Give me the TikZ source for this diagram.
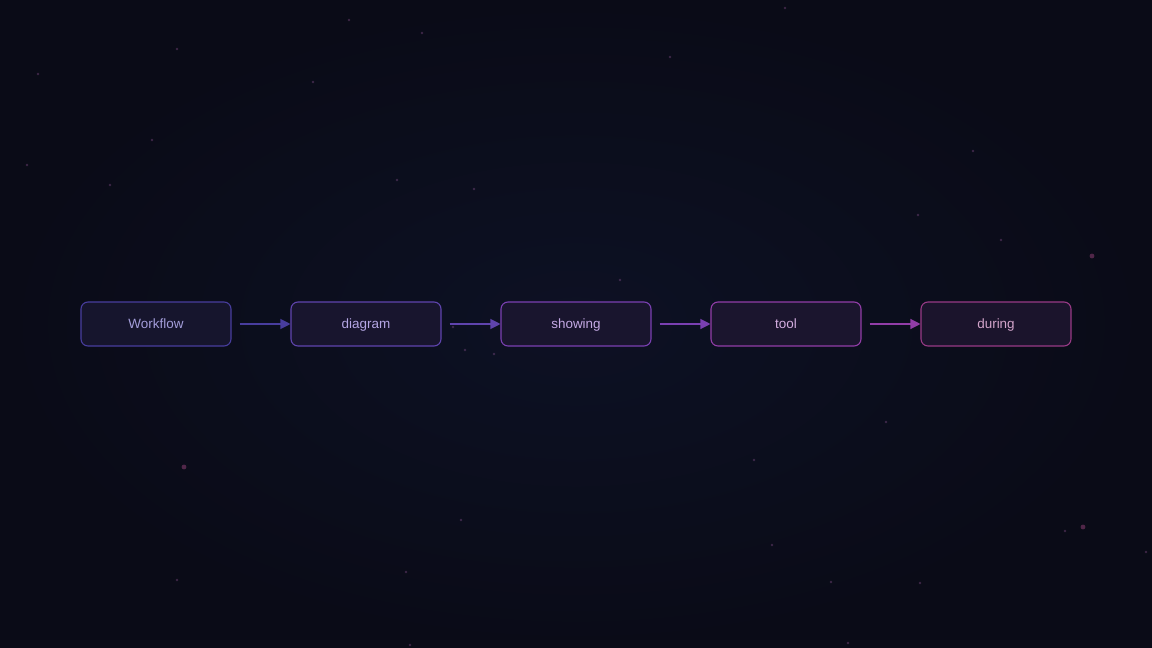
\documentclass[tikz,border=0pt]{standalone}
\usepackage{fontspec}
\setmainfont{Liberation Sans}
\usepackage{xcolor}
\usetikzlibrary{arrows.meta, positioning}

\definecolor{bgdark}{HTML}{0A0B17}
\definecolor{bgmid}{HTML}{0D1124}
\definecolor{boxfill}{HTML}{131226}
\definecolor{cA}{HTML}{483D9E}
\definecolor{cB}{HTML}{5F44AE}
\definecolor{cC}{HTML}{7A40B2}
\definecolor{cD}{HTML}{923DA8}
\definecolor{cE}{HTML}{983A86}
\definecolor{tA}{HTML}{A39DDA}
\definecolor{tB}{HTML}{B4A6E4}
\definecolor{tC}{HTML}{C4A9E4}
\definecolor{tD}{HTML}{D4ADE0}
\definecolor{tE}{HTML}{D2A4CA}

\tikzset{
  stage/.style={draw=#1, line width=1.1pt, rounded corners=7bp,
    fill=#1!6!boxfill, minimum width=150bp, minimum height=44bp,
    inner sep=0pt, text height=9.2bp, text depth=0pt,
    font=\fontsize{13.5}{16}\selectfont},
  link/.style={-{Triangle[length=10bp, width=10bp]}, line width=1.2pt, draw=#1, shorten <=8bp},
  dot/.style={fill=#1, opacity=0.3}
}

\begin{document}
\begin{tikzpicture}[x=1bp, y=-1bp]
  % background
  \fill[bgdark] (0,0) rectangle (1152,648);
  \shade[inner color=bgmid, outer color=bgdark] (0,0) rectangle (1152,648);
  \useasboundingbox (0,0) rectangle (1152,648);

  % faint dust
  \foreach \px/\py in {349/20, 177/49, 38/74, 313/82, 670/57, 152/140, 973/151,
      27/165, 110/185, 397/180, 474/189, 918/215, 1001/240, 620/280,
      453/327, 494/354, 465/350, 886/422, 754/460, 461/520, 772/545,
      1065/531, 406/572, 831/582, 920/583, 177/580, 848/643, 410/645, 1146/552, 422/33, 785/8}
    \fill[dot=violet!60!white] (\px,\py) circle (1.4);
  \foreach \px/\py in {1092/256, 184/467, 1083/527}
    \fill[dot=magenta!60!white] (\px,\py) circle (2.4);

  \node[stage=cA, text=tA] (S1) at (156,324) {Workflow};
  \node[stage=cB, text=tB] (S2) at (366,324) {diagram};
  \node[stage=cC, text=tC] (S3) at (576,324) {showing};
  \node[stage=cD, text=tD] (S4) at (786,324) {tool};
  \node[stage=cE, text=tE] (S5) at (996,324) {during};

  \draw[link=cA] (S1) -- (S2);
  \draw[link=cB] (S2) -- (S3);
  \draw[link=cC] (S3) -- (S4);
  \draw[link=cD] (S4) -- (S5);
\end{tikzpicture}
\end{document}
